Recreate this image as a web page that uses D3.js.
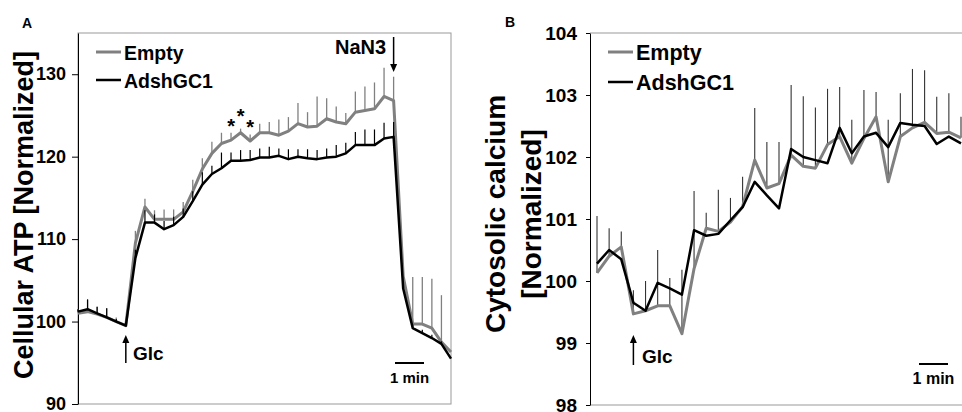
<!DOCTYPE html>
<html>
<head>
<meta charset="utf-8">
<script src="https://cdn.jsdelivr.net/npm/d3@7"></script>
<style>
  body { margin: 0; background: #fff; }
  svg text { font-family: "Liberation Sans", Arial, sans-serif; font-weight: bold; }
</style>
</head>
<body>
<script>
// Panel A: cellular ATP, 40 time points
const aEmpty = [101.0, 101.2, 100.9, 100.5, 100.0, 99.5, 109.5, 113.9, 112.4, 112.4,
  112.4, 113.3, 115.8, 118.5, 120.4, 121.6, 122.0, 122.9, 121.9, 122.9,
  122.9, 122.6, 123.1, 124.0, 123.6, 123.7, 124.6, 124.2, 124.0, 125.4,
  125.6, 125.8, 127.3, 126.8, 105.5, 99.7, 99.7, 99.2, 97.5, 96.3];
const aEmptyErr = [0.5, 1.4, 0.9, 1.1, 0.5, 0.3, 1.5, 1.0, 1.1, 1.2,
  1.2, 1.2, 1.4, 1.3, 1.4, 1.3, 0.9, 0.5, 0.8, 1.1,
  1.3, 1.9, 1.7, 2.5, 1.8, 3.6, 2.5, 1.9, 1.3, 2.5,
  2.9, 3.2, 3.5, 2.9, 0, 5.7, 5.7, 6.0, 5.7, 0];
const aGc1 = [101.2, 101.5, 101.0, 100.5, 100.0, 99.5, 107.7, 112.0, 112.0, 111.2,
  111.7, 112.7, 114.6, 116.6, 117.9, 118.6, 119.5, 119.5, 119.6, 119.9,
  119.9, 120.1, 119.7, 120.0, 119.8, 119.7, 119.9, 120.0, 120.4, 121.4,
  121.4, 121.4, 122.2, 122.4, 104.0, 99.2, 98.6, 98.0, 97.3, 95.5];
const aGc1Err = [0.3, 1.2, 0.8, 1.1, 0.3, 0.2, 1.0, 1.5, 1.0, 1.0,
  1.0, 1.0, 1.2, 1.5, 1.0, 1.9, 1.0, 1.3, 1.2, 1.1,
  1.3, 0.9, 1.2, 0.9, 1.1, 1.1, 1.1, 1.4, 1.3, 1.6,
  1.9, 1.9, 1.9, 1.8, 0, 0.4, 0.4, 0.4, 0.3, 0];
const aTicks = [90, 100, 110, 120, 130];
const aGlcIndex = 5;
const aNaN3Index = 33;
const aStarIndex = [16, 17, 18];
const aStarLevel = [124.3, 125.5, 124.2];

// Panel B: cytosolic calcium, 31 time points
const bEmpty = [100.13, 100.4, 100.55, 99.47, 99.52, 99.6, 99.6, 99.15, 100.2, 100.85,
  100.8, 100.95, 101.2, 101.95, 101.5, 101.57, 102.03, 101.85, 101.82, 102.2,
  102.33, 101.9, 102.3, 102.65, 101.6, 102.33, 102.47, 102.56, 102.38, 102.4, 102.31];
const bEmptyErr = [0.92, 0.45, 0.25, 0.38, 0.48, 0.9, 0.45, 1.03, 1.25, 0.25,
  0.67, 0.39, 0.48, 0.84, 0.74, 0.67, 1.13, 1.13, 0.98, 0.9,
  0.8, 0.7, 0.78, 0.4, 1.0, 0.7, 0.95, 0.84, 0.59, 0.63, 0.34];
const bGc1 = [100.28, 100.5, 100.35, 99.65, 99.52, 99.97, 99.88, 99.78, 100.82, 100.73,
  100.76, 100.98, 101.19, 101.6, 101.38, 101.17, 102.13, 102.0, 101.95, 101.9,
  102.47, 102.06, 102.33, 102.39, 102.16, 102.55, 102.52, 102.5, 102.21, 102.33, 102.22];
const bTicks = [98, 99, 100, 101, 102, 103, 104];
const bGlcIndex = 3;

const seriesNames = ['Empty', 'AdshGC1'];
const grey = '#808080';

const svg = d3.select('body').append('svg')
  .attr('width', 962)
  .attr('height', 412);

function errorBars(g, x, y, values, errs, color, width) {
  g.append('g').selectAll('line')
    .data(values.map((v, i) => ({ i, v, e: errs[i] })).filter(d => d.e > 0))
    .enter()
    .append('line')
    .attr('x1', d => x(d.i))
    .attr('x2', d => x(d.i))
    .attr('y1', d => y(d.v))
    .attr('y2', d => y(d.v + d.e))
    .attr('stroke', color)
    .attr('stroke-width', width);
}

function seriesLine(g, x, y, values, color, width) {
  const line = d3.line()
    .x((d, i) => x(i))
    .y(d => y(d));
  g.append('path')
    .datum(values)
    .attr('d', line)
    .attr('fill', 'none')
    .attr('stroke', color)
    .attr('stroke-width', width)
    .attr('stroke-linejoin', 'round');
}

function arrow(g, x, yFrom, yTo) {
  const dir = yTo > yFrom ? 1 : -1;
  g.append('line')
    .attr('x1', x).attr('x2', x)
    .attr('y1', yFrom).attr('y2', yTo - dir * 6)
    .attr('stroke', '#000')
    .attr('stroke-width', 1.5);
  g.append('path')
    .attr('d', `M${x - 3.5},${yTo - dir * 8} L${x + 3.5},${yTo - dir * 8} L${x},${yTo} Z`)
    .attr('fill', '#000');
}

function legend(g, x0, y0, gap, size) {
  const colors = [grey, '#000'];
  const widths = [3, 2.5];
  seriesNames.forEach((name, k) => {
    const yy = y0 + k * gap;
    g.append('line')
      .attr('x1', x0).attr('x2', x0 + 25)
      .attr('y1', yy).attr('y2', yy)
      .attr('stroke', colors[k])
      .attr('stroke-width', widths[k]);
    g.append('text')
      .attr('x', x0 + 28)
      .attr('y', yy + 8)
      .style('font-size', `${size}px`)
      .text(name);
  });
}

function scaleBar(g, x1, x2, y, size) {
  g.append('line')
    .attr('x1', x1).attr('x2', x2)
    .attr('y1', y).attr('y2', y)
    .attr('stroke', '#000')
    .attr('stroke-width', 2);
  g.append('text')
    .attr('x', (x1 + x2) / 2)
    .attr('y', y + 20)
    .attr('text-anchor', 'middle')
    .style('font-size', `${size}px`)
    .text('1 min');
}

// ---------- panel A ----------
{
  const g = svg.append('g');
  const x = d3.scaleLinear().domain([0, aEmpty.length - 1]).range([78, 451]);
  const y = d3.scaleLinear().domain([90, 135]).range([404, 33]);

  g.append('rect')
    .attr('x', 78).attr('y', 33)
    .attr('width', 373).attr('height', 371)
    .attr('fill', 'none')
    .attr('stroke', '#999')
    .attr('stroke-width', 1);

  const axis = g.append('g')
    .attr('transform', 'translate(78,0)')
    .call(d3.axisLeft(y).tickValues(aTicks).tickFormat(d3.format('d'))
      .tickSize(6).tickPadding(6).tickSizeOuter(0));
  axis.select('.domain').attr('stroke', '#000');
  axis.selectAll('text').style('font-size', '18px').attr('font-family', null);

  errorBars(g, x, y, aEmpty, aEmptyErr, grey, 1.3);
  seriesLine(g, x, y, aEmpty, grey, 3);
  errorBars(g, x, y, aGc1, aGc1Err, '#000', 1.2);
  seriesLine(g, x, y, aGc1, '#000', 2.5);

  g.selectAll('.star')
    .data(aStarIndex)
    .enter()
    .append('text')
    .attr('x', d => x(d))
    .attr('y', (d, k) => y(aStarLevel[k]))
    .attr('dy', '0.58em')
    .attr('text-anchor', 'middle')
    .style('font-size', '20px')
    .text('*');

  legend(g, 96, 52, 28, 19.5);

  g.append('text')
    .attr('x', 335).attr('y', 54)
    .style('font-size', '20px')
    .text('NaN3');
  arrow(g, x(aNaN3Index), 37, 72);

  arrow(g, x(aGlcIndex), 363, 335);
  g.append('text')
    .attr('x', 133).attr('y', 360)
    .style('font-size', '19px')
    .text('Glc');

  scaleBar(g, 395, 424, 363, 15);

  g.append('text')
    .attr('x', 22).attr('y', 28)
    .style('font-size', '14px')
    .text('A');

  g.append('text')
    .attr('transform', 'translate(33,215) rotate(-90)')
    .attr('text-anchor', 'middle')
    .style('font-size', '27px')
    .text('Cellular ATP [Normalized]');
}

// ---------- panel B ----------
{
  const g = svg.append('g');
  const x = d3.scaleLinear().domain([0, bEmpty.length - 1]).range([597, 961]);
  const y = d3.scaleLinear().domain([98, 104]).range([405, 33]);

  g.append('line')
    .attr('x1', 590).attr('x2', 962)
    .attr('y1', 33).attr('y2', 33)
    .attr('stroke', '#999');
  g.append('line')
    .attr('x1', 590).attr('x2', 962)
    .attr('y1', 405).attr('y2', 405)
    .attr('stroke', '#999');

  const axis = g.append('g')
    .attr('transform', 'translate(590,0)')
    .call(d3.axisLeft(y).tickValues(bTicks).tickFormat(d3.format('d'))
      .tickSize(4).tickPadding(9).tickSizeOuter(0));
  axis.select('.domain').attr('stroke', '#000');
  axis.selectAll('text').style('font-size', '19px').attr('font-family', null);

  errorBars(g, x, y, bEmpty, bEmptyErr, '#333', 1.1);
  seriesLine(g, x, y, bEmpty, grey, 3);
  seriesLine(g, x, y, bGc1, '#000', 2.5);

  legend(g, 608, 52, 30, 21.5);

  arrow(g, x(bGlcIndex), 365, 335);
  g.append('text')
    .attr('x', 642).attr('y', 363)
    .style('font-size', '19px')
    .text('Glc');

  scaleBar(g, 919, 948, 364, 16);

  g.append('text')
    .attr('x', 505).attr('y', 27)
    .style('font-size', '14px')
    .text('B');

  g.append('text')
    .attr('transform', 'translate(505,214) rotate(-90)')
    .attr('text-anchor', 'middle')
    .style('font-size', '28px')
    .text('Cytosolic calcium');
  g.append('text')
    .attr('transform', 'translate(541,214) rotate(-90)')
    .attr('text-anchor', 'middle')
    .style('font-size', '28px')
    .text('[Normalized]');
}
</script>
</body>
</html>
